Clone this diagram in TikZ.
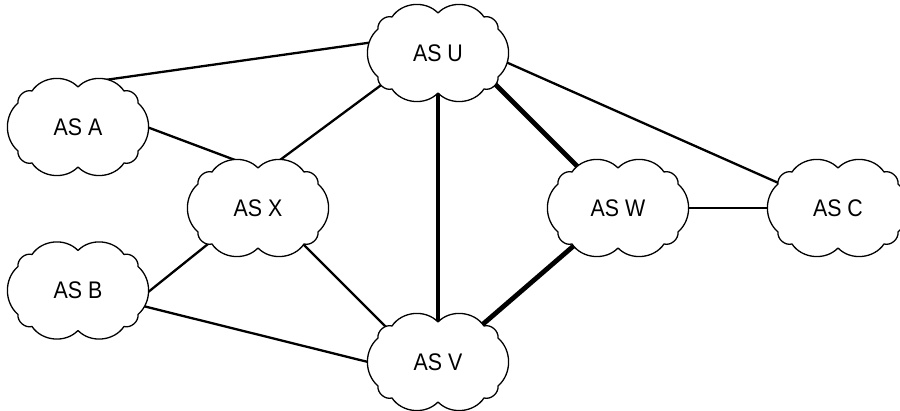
\documentclass[tikz,border=0pt]{standalone}
\usepackage{fontspec}
\setmainfont{Liberation Sans}
\pgfdeclarelayer{bg}
\pgfsetlayers{bg,main}
\tikzset{
  aslabel/.style={inner sep=0pt, font=\fontsize{24}{24}\selectfont},
  cloudline/.style={draw=black, fill=white, line width=1.3pt, line join=round},
  ascloud/.pic={
    \path[cloudline] (-46,36) to[bend left=51] (0,40) to[bend left=51] (46,36)
      to[bend left=56] (60,24) to[bend left=49] (60,-24)
      to[bend left=56] (46,-36) to[bend left=51] (0,-40)
      to[bend left=51] (-46,-36) to[bend left=56] (-60,-24)
      to[bend left=49] (-60,24) to[bend left=56] (-46,36) -- cycle;
  },
  link/.style={line width=2.3pt, shorten <=-4pt, shorten >=-4pt},
  midlink/.style={line width=3.6pt, shorten <=-4pt, shorten >=-4pt},
  thicklink/.style={line width=4.8pt, shorten <=-4pt, shorten >=-4pt}
}
\newcommand{\aslab}[1]{\scalebox{0.89}[1]{#1}}
\begin{document}
\begin{tikzpicture}[x=1pt,y=1pt]
\useasboundingbox (0,0) rectangle (900,411);
\node[aslabel] (u) at (438,358) {\aslab{AS U}};
\node[aslabel] (a) at (78,284) {\aslab{AS A}};
\node[aslabel] (x) at (258,203) {\aslab{AS X}};
\node[aslabel] (b) at (78,120.5) {\aslab{AS B}};
\node[aslabel] (v) at (438,49) {\aslab{AS V}};
\node[aslabel] (w) at (618,203) {\aslab{AS W}};
\node[aslabel] (c) at (838,203) {\aslab{AS C}};
\begin{pgfonlayer}{bg}
\draw[link] ([shift={(-71,10)}]u.center) -- ([shift={(27,47)}]a.center);
\draw[link] ([shift={(69,0)}]a.center) -- ([shift={(-23,48)}]x.center);
\draw[link] ([shift={(22,48)}]x.center) -- ([shift={(-50,-27)}]u.center);
\draw[midlink] ([shift={(0,-37)}]u.center) -- ([shift={(0,37)}]v.center);
\draw[thicklink] ([shift={(50,-24)}]u.center) -- ([shift={(-40,41)}]w.center);
\draw[link] ([shift={(70,-10)}]u.center) -- ([shift={(-55,23)}]c.center);
\draw[link] ([shift={(70,0)}]w.center) -- ([shift={(-70,0)}]c.center);
\draw[thicklink] ([shift={(-41,-35)}]w.center) -- ([shift={(44,37)}]v.center);
\draw[link] ([shift={(44,-35)}]x.center) -- ([shift={(-46,29)}]v.center);
\draw[link] ([shift={(-45,-32)}]x.center) -- ([shift={(69,-2.5)}]b.center);
\draw[link] ([shift={(69,-16.5)}]b.center) -- ([shift={(-70,0)}]v.center);
\pic at (u) {ascloud};
\pic at (a) {ascloud};
\pic at (x) {ascloud};
\pic at (b) {ascloud};
\pic at (v) {ascloud};
\pic at (w) {ascloud};
\pic at (c) {ascloud};
\end{pgfonlayer}
\end{tikzpicture}
\end{document}
